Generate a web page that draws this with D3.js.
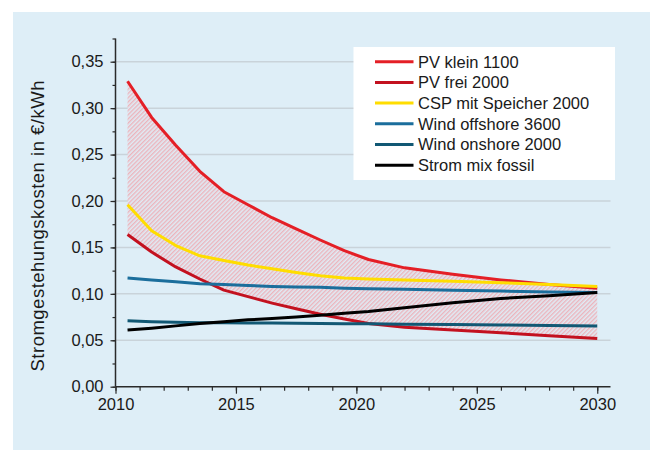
<!DOCTYPE html>
<html><head><meta charset="utf-8">
<script src="https://cdn.jsdelivr.net/npm/d3@7"></script>
<style>
html,body{margin:0;padding:0;background:#fff;}
svg{display:block;font-family:"Liberation Sans",Arial,sans-serif;}
</style></head>
<body>
<svg id="chart" width="650" height="450"></svg>
<script>
const years = [2010.5, 2011.5, 2012.5, 2013.5, 2014.5, 2015.5, 2016.5, 2017.5, 2018.5, 2019.5, 2020.5, 2022, 2024, 2026, 2028, 2030];
const pvKlein   = [0.329, 0.290, 0.260, 0.232, 0.210, 0.196, 0.182, 0.170, 0.158, 0.1465, 0.137, 0.128, 0.121, 0.115, 0.110, 0.106];
const pvFrei    = [0.164, 0.145, 0.129, 0.116, 0.104, 0.097, 0.090, 0.084, 0.078, 0.073, 0.068, 0.064, 0.061, 0.058, 0.055, 0.052];
const csp       = [0.196, 0.168, 0.152, 0.141, 0.136, 0.131, 0.127, 0.123, 0.1195, 0.117, 0.116, 0.115, 0.1135, 0.112, 0.110, 0.108];
const offshore  = [0.117, 0.115, 0.113, 0.111, 0.110, 0.109, 0.108, 0.1075, 0.107, 0.106, 0.1055, 0.105, 0.104, 0.103, 0.102, 0.1015];
const onshore   = [0.071, 0.070, 0.0695, 0.069, 0.069, 0.0687, 0.0685, 0.0683, 0.068, 0.0678, 0.0677, 0.0673, 0.067, 0.0665, 0.066, 0.0655];
const fossil    = [0.061, 0.063, 0.0655, 0.068, 0.070, 0.072, 0.0735, 0.075, 0.077, 0.079, 0.081, 0.085, 0.0905, 0.095, 0.098, 0.1015];
const seriesNames = ["PV klein 1100", "PV frei 2000", "CSP mit Speicher 2000", "Wind offshore 3600", "Wind onshore 2000", "Strom mix fossil"];
const seriesColors = ["#e41f26", "#c3111f", "#ffdd00", "#1b6e9c", "#115874", "#000000"];
const xTickLabels = [2010, 2015, 2020, 2025, 2030];
const yTickValues = [0, 0.05, 0.10, 0.15, 0.20, 0.25, 0.30, 0.35];
const yTitle = "Stromgestehungskosten in €/kWh";

const seriesValues = [pvKlein, pvFrei, csp, offshore, onshore, fossil];
const svg = d3.select("#chart");

// panel background
svg.append("rect").attr("x", 13).attr("y", 12).attr("width", 637).attr("height", 438).attr("fill", "#deeef7");

const x = d3.scaleLinear().domain([2010, 2030.55]).range([115.5, 610.5]);
const y = d3.scaleLinear().domain([0, 0.375]).range([386.7, 38.5]);

// hatch pattern
const defs = svg.append("defs");
const pat = defs.append("pattern").attr("id", "hatch").attr("patternUnits", "userSpaceOnUse")
  .attr("width", 3).attr("height", 3).attr("patternTransform", "rotate(45)");
pat.append("rect").attr("width", 3).attr("height", 3).attr("fill", "#e0ebf4");
pat.append("line").attr("x1", 0.75).attr("y1", 0).attr("x2", 0.75).attr("y2", 3)
  .attr("stroke", "#f0a6ae").attr("stroke-width", 1.1);

// gridlines
svg.append("g").selectAll("line").data(yTickValues.filter(v => v > 0)).join("line")
  .attr("x1", x(2010)).attr("x2", x(2030.55))
  .attr("y1", d => y(d)).attr("y2", d => y(d))
  .attr("stroke", "#c9d3da").attr("stroke-width", 1.5);

// hatched area between PV klein and PV frei
const areaData = years.map((yr, i) => ({yr, hi: pvKlein[i], lo: pvFrei[i]}));
svg.append("path").datum(areaData)
  .attr("d", d3.area().x(d => x(d.yr)).y0(d => y(d.lo)).y1(d => y(d.hi)))
  .attr("fill", "url(#hatch)");

// lines
const line = d3.line().x(d => x(d[0])).y(d => y(d[1]));
seriesValues.forEach((vals, i) => {
  svg.append("path").datum(years.map((yr, j) => [yr, vals[j]]))
    .attr("d", line).attr("fill", "none")
    .attr("stroke", seriesColors[i]).attr("stroke-width", 3)
    .attr("stroke-linejoin", "round").attr("stroke-linecap", "butt");
});

// axes
const fmt = v => d3.format(".2f")(v).replace(".", ",");
const xMinor = svg.append("g").attr("transform", `translate(0,${y(0)})`)
  .call(d3.axisBottom(x).tickValues(d3.range(2010, 2031)).tickSize(4).tickFormat(""));
const xMajor = svg.append("g").attr("transform", `translate(0,${y(0)})`)
  .call(d3.axisBottom(x).tickValues(xTickLabels).tickSize(7).tickPadding(5).tickFormat(d3.format("d")));
const yMinor = svg.append("g").attr("transform", `translate(${x(2010)},0)`)
  .call(d3.axisLeft(y).tickValues(d3.range(0, 0.376, 0.025)).tickSize(3).tickFormat(""));
const yMajor = svg.append("g").attr("transform", `translate(${x(2010)},0)`)
  .call(d3.axisLeft(y).tickValues(yTickValues).tickSize(5).tickPadding(7).tickFormat(fmt));
[xMinor, xMajor, yMinor, yMajor].forEach(g => {
  g.selectAll("path.domain").attr("stroke", "#2a2a2a").attr("stroke-width", 1.5);
  g.selectAll(".tick line").attr("stroke", "#2a2a2a").attr("stroke-width", 1.2);
  g.selectAll("text").attr("font-size", 16.5).attr("fill", "#1a1a1a")
    .attr("font-family", "'Liberation Sans',Arial,sans-serif");
});
[xMinor, yMinor].forEach(g => g.selectAll("path.domain").attr("d", null).remove());
xMajor.select("path.domain").attr("d", `M${x(2010)},0H${x(2030.55)}`);
yMajor.select("path.domain").attr("d", `M0,${y(0)}V${y(0.375)}`);

// y title
svg.append("text").attr("transform", `translate(43.5,226) rotate(-90)`)
  .attr("text-anchor", "middle").attr("font-size", 18.5).attr("fill", "#1a1a1a")
  .attr("textLength", 291).attr("lengthAdjust", "spacing")
  .text(yTitle);

// legend
const lg = svg.append("g");
lg.append("rect").attr("x", 353.5).attr("y", 47).attr("width", 261.5).attr("height", 133).attr("fill", "#ffffff");
seriesNames.forEach((name, i) => {
  const cy = 61.7 + i * 20.7;
  lg.append("line").attr("x1", 375).attr("x2", 413.5).attr("y1", cy).attr("y2", cy)
    .attr("stroke", seriesColors[i]).attr("stroke-width", 3);
  lg.append("text").attr("x", 418).attr("y", cy + 5.8).attr("font-size", 16.5).attr("fill", "#1a1a1a").text(name);
});
</script>
</body></html>
